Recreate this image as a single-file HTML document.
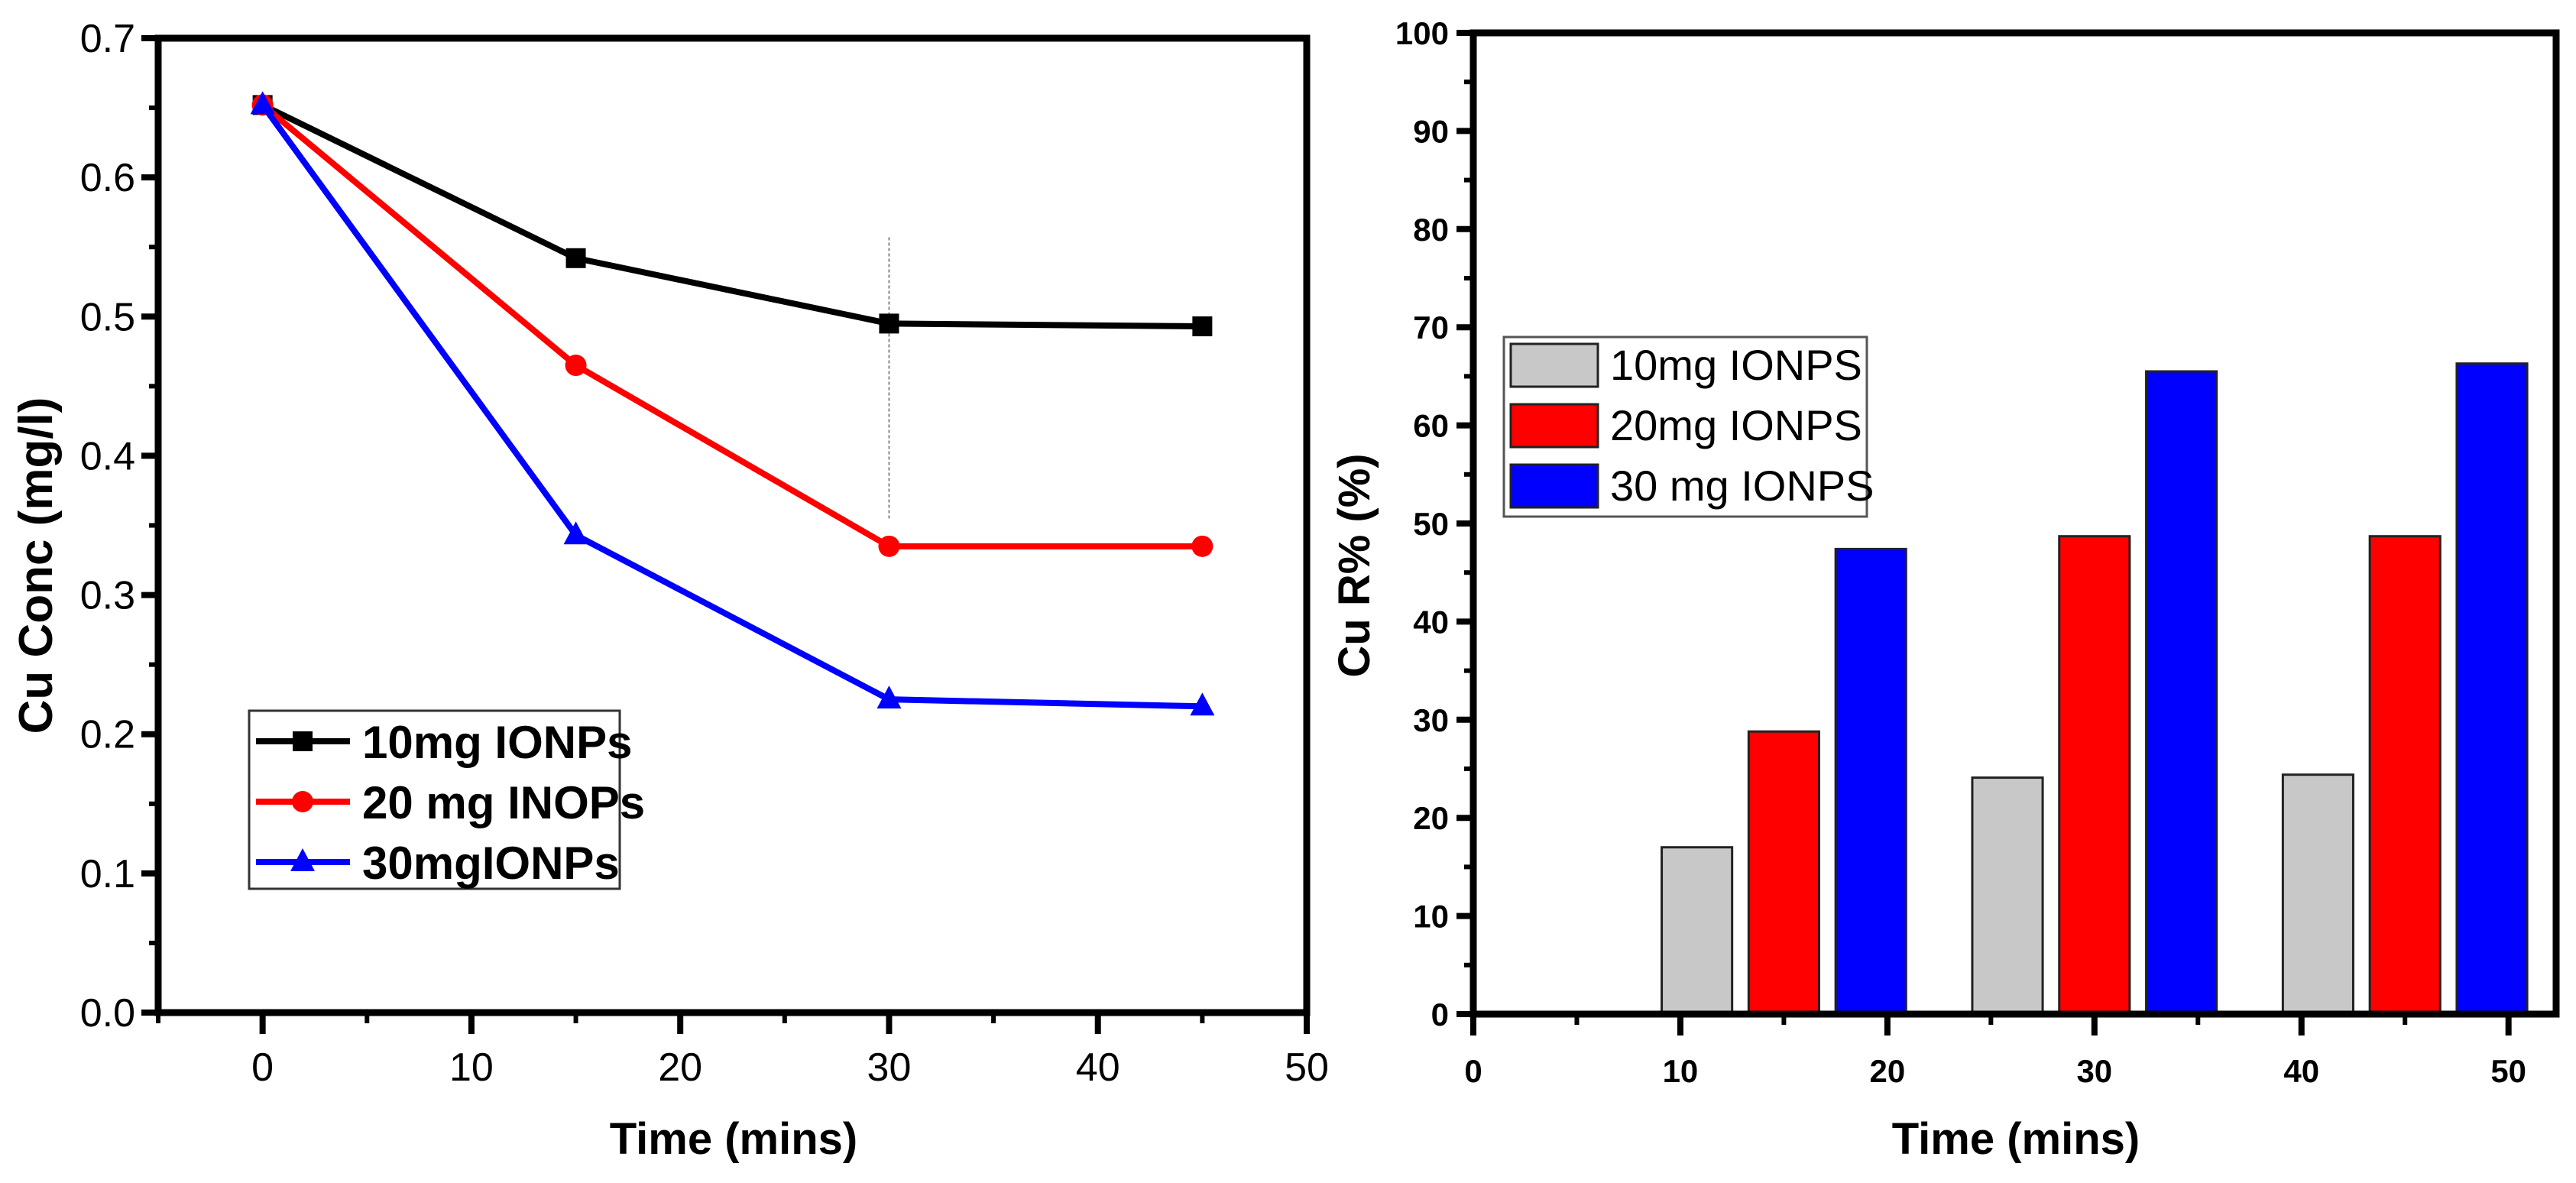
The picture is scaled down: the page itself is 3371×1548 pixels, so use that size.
<!DOCTYPE html>
<html><head><meta charset="utf-8"><style>
html,body{margin:0;padding:0;background:#fff;}
svg{display:block;}
text{font-family:"Liberation Sans",sans-serif;}
</style></head><body>
<svg id="fig" width="3371" height="1548" viewBox="0 0 3371 1548" xmlns="http://www.w3.org/2000/svg"></svg>
<script>
// ---- left chart data ----
const lineX = [0, 15, 30, 45];
const series10 = [0.652, 0.542, 0.495, 0.493];
const series20 = [0.652, 0.465, 0.335, 0.335];
const series30 = [0.652, 0.343, 0.225, 0.220];
const leftYTicks = [0.0, 0.1, 0.2, 0.3, 0.4, 0.5, 0.6, 0.7];
const leftYTickLabels = ["0.0","0.1","0.2","0.3","0.4","0.5","0.6","0.7"];
const leftXTicks = [0, 10, 20, 30, 40, 50];
const leftLegend = ["10mg IONPs", "20 mg INOPs", "30mgIONPs"];
// ---- right chart data ----
const barCats = [15, 30, 45];
const bars10 = [17.0, 24.1, 24.4];
const bars20 = [28.8, 48.7, 48.7];
const bars30 = [47.4, 65.5, 66.3];
const rightYTicks = [0,10,20,30,40,50,60,70,80,90,100];
const rightXTicks = [0,10,20,30,40,50];
const rightLegend = ["10mg IONPS", "20mg IONPS", "30 mg IONPS"];

const svg = document.getElementById('fig');
const NS = 'http://www.w3.org/2000/svg';
function mk(tag, attrs, parent){const e=document.createElementNS(NS,tag);for(const k in attrs)e.setAttribute(k,attrs[k]);(parent||svg).appendChild(e);return e;}

// ===== LEFT =====
const L = {x0:207, x1:1710, y0:1325, y1:50, xmin:-5, xmax:50, ymin:0, ymax:0.7};
const lx = v => L.x0 + (v-L.xmin)/(L.xmax-L.xmin)*(L.x1-L.x0);
const ly = v => L.y0 - (v-L.ymin)/(L.ymax-L.ymin)*(L.y0-L.y1);

const gL = mk('g',{});  
// dotted guide
const guide = mk('line',{x1:lx(30),x2:lx(30),y1:ly(0.557),y2:ly(0.355),stroke:'#888','stroke-width':2,'stroke-dasharray':'4,3'},gL);
 

const cols = ['#000','#ff0000','#0000ff'];
const allSeries = [series10, series20, series30];
function marker(i, cx, cy, parent){
  let m;
  if(i===0) m = mk('rect',{x:cx-13,y:cy-13,width:26,height:26,fill:cols[0]},parent);
  else if(i===1) m = mk('circle',{cx:cx,cy:cy,r:14,fill:cols[1]},parent);
  else m = mk('polygon',{points:`${cx},${cy-18} ${cx+16},${cy+12} ${cx-16},${cy+12}`,fill:cols[2]},parent);
  return m;
}
allSeries.forEach((s,i)=>{
  const g = mk('g',{},gL);
   
  const pl = mk('polyline',{points:s.map((v,j)=>lx(lineX[j])+','+ly(v)).join(' '),fill:'none',stroke:cols[i],'stroke-width':8,'stroke-linejoin':'round'},g);
   
  s.forEach((v,j)=>{const m=marker(i,lx(lineX[j]),ly(v),g);
     });
});
// frame
const fL = mk('rect',{x:L.x0,y:L.y1,width:L.x1-L.x0,height:L.y0-L.y1,fill:'none',stroke:'#000','stroke-width':9},gL);
 
// y ticks
leftYTicks.forEach((v,i)=>{
  const y=ly(v);
  mk('line',{x1:L.x0-22,x2:L.x0,y1:y,y2:y,stroke:'#000','stroke-width':8},gL);
  if(i<leftYTicks.length-1) mk('line',{x1:L.x0-12,x2:L.x0,y1:ly(v+0.05),y2:ly(v+0.05),stroke:'#000','stroke-width':6},gL);
  const t=mk('text',{x:L.x0-30,y:y+18,'text-anchor':'end','font-size':52},gL); t.textContent=leftYTickLabels[i];
   
});
leftXTicks.forEach(v=>{
  const x=lx(v);
  mk('line',{x1:x,x2:x,y1:L.y0,y2:L.y0+28,stroke:'#000','stroke-width':8},gL);
  mk('line',{x1:lx(v-5),x2:lx(v-5),y1:L.y0,y2:L.y0+14,stroke:'#000','stroke-width':6},gL);
  const t=mk('text',{x:x,y:1414,'text-anchor':'middle','font-size':52},gL); t.textContent=v;
   
});
let t;
t=mk('text',{x:0,y:0,'text-anchor':'middle','font-size':62,'font-weight':'bold',transform:'translate(68,740) rotate(-90)'},gL);
t.textContent='Cu Conc (mg/l)';  
t=mk('text',{x:960,y:1510,'text-anchor':'middle','font-size':58,'font-weight':'bold','font-family':'"Liberation Sans Narrow","Liberation Sans",sans-serif'},gL);
t.textContent='Time (mins)';  
// legend
const lgL = mk('g',{},gL);  
mk('rect',{x:326,y:930,width:485,height:233,fill:'#fff',stroke:'#333','stroke-width':3},lgL);
leftLegend.forEach((s,i)=>{
  const y=970+i*79;
  const e=mk('g',{},lgL);  
  mk('line',{x1:335,x2:458,y1:y,y2:y,stroke:cols[i],'stroke-width':8},e);
  marker(i,396,y,e);
  const tt=mk('text',{x:474,y:y+22,'font-size':60,'font-weight':'bold','font-family':'"Liberation Sans Narrow","Liberation Sans",sans-serif'},e); tt.textContent=s;
});

// ===== RIGHT =====
const R = {x0:1928, x1:3345, y0:1327, y1:43, xmin:0, xmax:52.3, ymin:0, ymax:100};
const rx = v => R.x0 + (v-R.xmin)/(R.xmax-R.xmin)*(R.x1-R.x0);
const ry = v => R.y0 - (v-R.ymin)/(R.ymax-R.ymin)*(R.y0-R.y1);
const gR = mk('g',{});  
const barFill = ['#c8c8c8','#ff0000','#0000ff'];
const barSets = [bars10, bars20, bars30];
const offs = [-4.2, 0, 4.2], bw = 3.4;
barSets.forEach((s,i)=>{
  const g=mk('g',{},gR);  
  s.forEach((v,j)=>{
    const c=barCats[j]+offs[i];
    const b=mk('rect',{x:rx(c-bw/2),y:ry(v),width:rx(c+bw/2)-rx(c-bw/2),height:ry(0)-ry(v),fill:barFill[i],stroke:'#222','stroke-width':3},g);
     
  });
});
const fR = mk('rect',{x:R.x0,y:R.y1,width:R.x1-R.x0,height:R.y0-R.y1,fill:'none',stroke:'#000','stroke-width':9},gR);
 
rightYTicks.forEach((v,i)=>{
  const y=ry(v);
  mk('line',{x1:R.x0-22,x2:R.x0,y1:y,y2:y,stroke:'#000','stroke-width':8},gR);
  if(i<rightYTicks.length-1) mk('line',{x1:R.x0-12,x2:R.x0,y1:ry(v+5),y2:ry(v+5),stroke:'#000','stroke-width':6},gR);
  const tt=mk('text',{x:R.x0-32,y:y+15,'text-anchor':'end','font-size':42,'font-weight':'bold','font-family':'"Liberation Sans Narrow","Liberation Sans",sans-serif'},gR); tt.textContent=v;
   
});
rightXTicks.forEach(v=>{
  const x=rx(v);
  mk('line',{x1:x,x2:x,y1:R.y0,y2:R.y0+28,stroke:'#000','stroke-width':8},gR);
  mk('line',{x1:rx(v+5),x2:rx(v+5),y1:R.y0,y2:R.y0+14,stroke:'#000','stroke-width':6},gR);
  const tt=mk('text',{x:x,y:1416,'text-anchor':'middle','font-size':42,'font-weight':'bold','font-family':'"Liberation Sans Narrow","Liberation Sans",sans-serif'},gR); tt.textContent=v;
   
});
t=mk('text',{x:0,y:0,'text-anchor':'middle','font-size':58,'font-weight':'bold',transform:'translate(1792,740) rotate(-90)'},gR);
t.textContent='Cu  R% (%)';  
t=mk('text',{x:2638,y:1510,'text-anchor':'middle','font-size':58,'font-weight':'bold','font-family':'"Liberation Sans Narrow","Liberation Sans",sans-serif'},gR);
t.textContent='Time (mins)';  
const lgR = mk('g',{},gR);  
mk('rect',{x:1968,y:441,width:475,height:235,fill:'#fff',stroke:'#555','stroke-width':3},lgR);
rightLegend.forEach((s,i)=>{
  const y=450+i*79;
  const e=mk('g',{},lgR);  
  mk('rect',{x:1977,y:y,width:114,height:56,fill:barFill[i],stroke:'#222','stroke-width':3},e);
  const tt=mk('text',{x:2107,y:y+47,'font-size':56,'font-family':'"Liberation Sans Narrow","Liberation Sans",sans-serif'},e); tt.textContent=s;
});
</script>
</body></html>
